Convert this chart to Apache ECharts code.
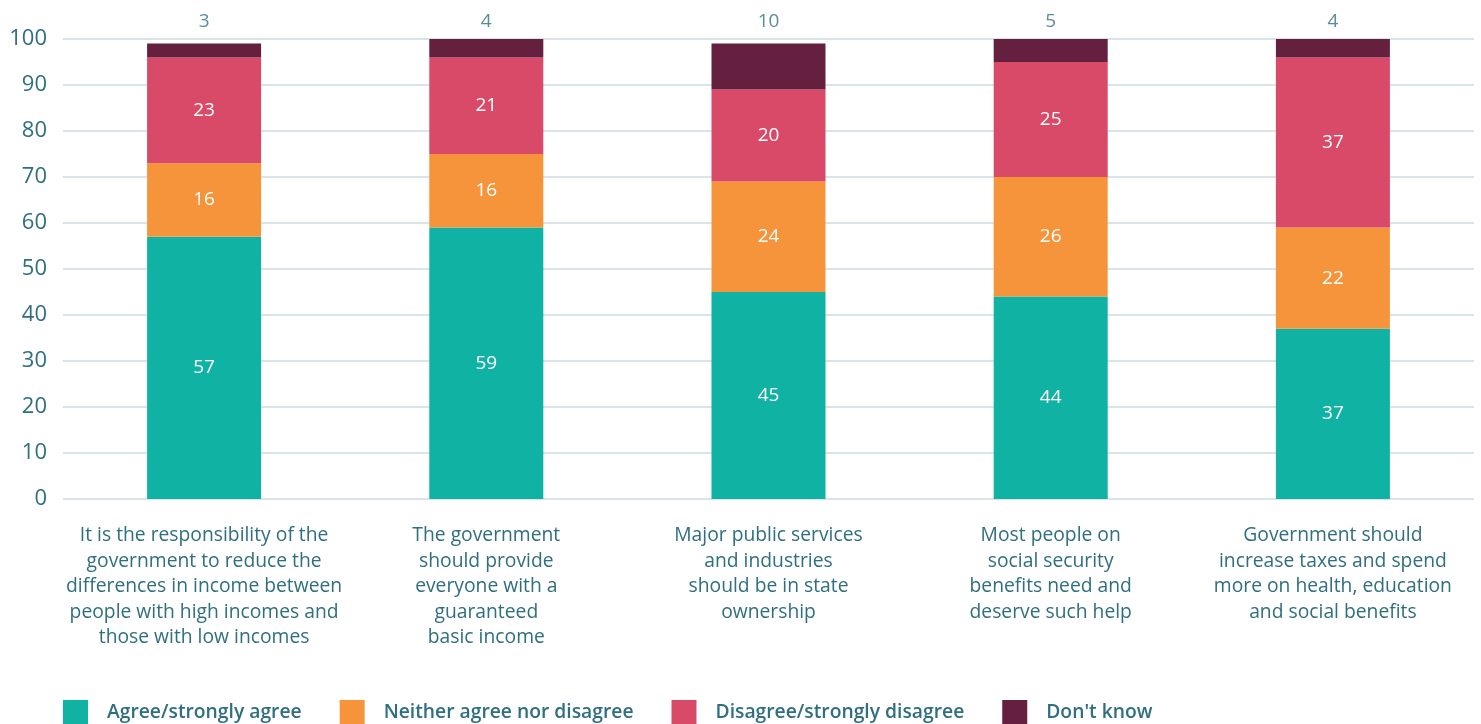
<!DOCTYPE html>
<html>
<head>
<meta charset="utf-8">
<script src="https://cdn.jsdelivr.net/npm/echarts@6/dist/echarts.min.js"></script>
<style>html,body{margin:0;padding:0;background:#fff;}#c{width:1481px;height:724px;}</style>
</head>
<body>
<div id="c"></div>
<script>
const categories = [
  "It is the responsibility of the\ngovernment to reduce the\ndifferences in income between\npeople with high incomes and\nthose with low incomes",
  "The government\nshould provide\neveryone with a\nguaranteed\nbasic income",
  "Major public services\nand industries\nshould be in state\nownership",
  "Most people on\nsocial security\nbenefits need and\ndeserve such help",
  "Government should\nincrease taxes and spend\nmore on health, education\nand social benefits"
];
const seriesNames = ["Agree/strongly agree", "Neither agree nor disagree", "Disagree/strongly disagree", "Don't know"];
const agree = [57, 59, 45, 44, 37];
const neither = [16, 16, 24, 26, 22];
const disagree = [23, 21, 20, 25, 37];
const dontKnow = [3, 4, 10, 5, 4];
const topAnchor = [100, 100, 100, 100, 100];
const yTicks = [0, 10, 20, 30, 40, 50, 60, 70, 80, 90, 100];

const colors = ["#10b2a3", "#f5943a", "#d94968", "#66203f"];
const textColor = "#2f6f80";
const font = "Open Sans";

const chart = echarts.init(document.getElementById('c'));
const mkBar = (name, data, color, showLabel) => ({
  name, type: 'bar', stack: 'total', data, barWidth: 114,
  itemStyle: { color },
  label: { show: showLabel, position: 'inside', color: '#fff', fontSize: 19, fontFamily: font },
  emphasis: { disabled: true }
});
chart.setOption({
  animation: false,
  textStyle: { fontFamily: font },
  grid: { left: 63, right: 7, top: 39, bottom: 225, containLabel: false },
  legend: {
    data: seriesNames,
    left: 63, top: 700, padding: 0,
    itemWidth: 25, itemHeight: 25, itemGap: 38,
    icon: 'rect',
    textStyle: { color: textColor, fontSize: 19.3, fontFamily: font, fontWeight: 600, padding: [0, 0, 0, 14] }
  },
  xAxis: {
    type: 'category', data: categories,
    axisLine: { show: false }, axisTick: { show: false },
    axisLabel: { color: textColor, fontSize: 19.3, lineHeight: 25.5, margin: 24, fontFamily: font, interval: 0 }
  },
  yAxis: {
    type: 'value', min: 0, max: 100, interval: 10,
    axisLabel: { color: textColor, fontSize: 22, margin: 16, fontFamily: font,
      formatter: v => yTicks.includes(v) ? String(v) : '' },
    splitLine: { lineStyle: { color: '#d8e5e8', width: 2 } },
    axisLine: { show: false }, axisTick: { show: false }
  },
  series: [
    mkBar(seriesNames[0], agree, colors[0], true),
    mkBar(seriesNames[1], neither, colors[1], true),
    mkBar(seriesNames[2], disagree, colors[2], true),
    mkBar(seriesNames[3], dontKnow, colors[3], false),
    {
      type: 'scatter', data: topAnchor, symbolSize: 0, silent: true,
      label: { show: true, position: 'top', distance: 8, color: textColor, fontSize: 19, fontFamily: font,
        formatter: p => String(dontKnow[p.dataIndex]) },
      z: 10
    }
  ]
});
</script>
</body>
</html>
